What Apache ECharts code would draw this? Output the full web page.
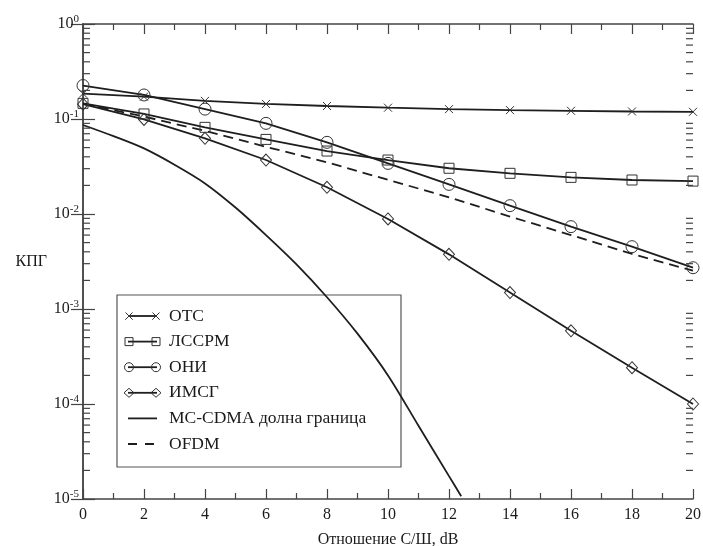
<!DOCTYPE html>
<html>
<head>
<meta charset="utf-8">
<script src="https://cdn.jsdelivr.net/npm/echarts@6/dist/echarts.min.js"></script>
<style>html,body{margin:0;padding:0;background:#fff;}#c{width:703px;height:546px;}</style>
</head>
<body>
<div id="c"></div>
<script>
// ---- data ----
const snr = [0, 2, 4, 6, 8, 10, 12, 14, 16, 18, 20];
const otc = [0.185, 0.172, 0.155, 0.144, 0.137, 0.1315, 0.127, 0.124, 0.122, 0.120, 0.119];
const lssrm = [0.146, 0.113, 0.0817, 0.061, 0.046, 0.037, 0.0303, 0.0268, 0.0243, 0.0228, 0.0222];
const oni = [0.225, 0.179, 0.127, 0.090, 0.0568, 0.0341, 0.0205, 0.01224, 0.00736, 0.00453, 0.00272];
const imsg = [0.143, 0.099, 0.0626, 0.037, 0.0191, 0.00886, 0.00376, 0.00149, 0.00059, 0.000241, 0.0001];
const ofdm = [0.145, 0.106, 0.075, 0.051, 0.035, 0.0229, 0.015, 0.0094, 0.0060, 0.0038, 0.00253];
const mcX = [0, 1, 2, 3, 4, 5, 6, 7, 8, 9, 10, 11, 12, 12.4];
const mcBound = [0.0865, 0.066, 0.049, 0.033, 0.021, 0.0117, 0.0060, 0.00295, 0.00133, 0.00055, 0.0002, 0.000059, 0.0000174, 0.0000107];
const seriesNames = ['ОТС', 'ЛССРМ', 'ОНИ', 'ИМСГ', 'MC-CDMA долна граница', 'OFDM'];
const xTickValues = [0, 2, 4, 6, 8, 10, 12, 14, 16, 18, 20];
const yMinorTicks = [];
for (let d = -5; d <= -1; d++) for (let k = 2; k <= 9; k++) yMinorTicks.push(k * Math.pow(10, d));

// ---- styling ----
const INK = '#1e1e1e';
const AX = '#444';
const FONT = '"Liberation Serif","Times New Roman",serif';
const crossPath = 'path://M0,0L10,10M0,10L10,0';
const markerStyle = { color: 'none', borderColor: '#333', borderWidth: 1 };

function pairs(xs, ys) { return xs.map((x, i) => [x, ys[i]]); }

function markerSeries(name, ys, symbol, size) {
  return {
    name: name, type: 'line', data: pairs(snr, ys), symbol: symbol, symbolSize: size,
    showAllSymbol: true,
    lineStyle: { color: INK, width: 1.8 },
    itemStyle: markerStyle, z: 3
  };
}

const chart = echarts.init(document.getElementById('c'), null, { renderer: 'canvas' });

const xBase = {
  type: 'value', min: 0, max: 20, interval: 2,
  axisLine: { show: true, onZero: false, lineStyle: { color: AX, width: 1.5 } },
  axisTick: { show: true, inside: true, length: 10, lineStyle: { color: AX, width: 1.2 } },
  minorTick: { show: true, splitNumber: 2, length: 6, lineStyle: { color: AX, width: 1.2 } },
  splitLine: { show: false }, minorSplitLine: { show: false }
};
const yBase = {
  type: 'log', logBase: 10, min: 0.00001, max: 1,
  axisLine: { show: true, lineStyle: { color: AX, width: 1.5 } },
  axisTick: { show: true, inside: true, length: 12, lineStyle: { color: AX, width: 1.2 } },
  splitLine: { show: false }, minorTick: { show: false }
};

// legend layout (graphic)
const LX = 117, LY = 295, LW = 284, LH = 172, ROW0 = 21, ROWH = 25.6;
const legendChildren = [{
  type: 'rect', shape: { x: LX, y: LY, width: LW, height: LH },
  style: { fill: '#fff', stroke: '#555', lineWidth: 1.2 }
}];
function legendMarker(kind, cx, cy) {
  const s = { fill: 'none', stroke: '#333', lineWidth: 1 };
  if (kind === 'cross') return { type: 'polyline', shape: { points: [[cx - 3.5, cy - 3.5], [cx + 3.5, cy + 3.5], [cx, cy], [cx - 3.5, cy + 3.5], [cx + 3.5, cy - 3.5]] }, style: s };
  if (kind === 'rect') return { type: 'rect', shape: { x: cx - 4, y: cy - 4, width: 8, height: 8 }, style: s };
  if (kind === 'circle') return { type: 'circle', shape: { cx: cx, cy: cy, r: 4.5 }, style: s };
  if (kind === 'diamond') return { type: 'polygon', shape: { points: [[cx - 5, cy], [cx, cy - 4.5], [cx + 5, cy], [cx, cy + 4.5]] }, style: s };
  return null;
}
const legendKinds = ['cross', 'rect', 'circle', 'diamond', null, null];
seriesNames.forEach((nm, i) => {
  const cy = LY + ROW0 + i * ROWH;
  const x1 = 128, x2 = 157;
  legendChildren.push({
    type: 'line', shape: { x1: x1, y1: cy, x2: x2, y2: cy },
    style: { stroke: INK, lineWidth: 1.8, lineDash: i === 5 ? [9, 8] : null }
  });
  const k = legendKinds[i];
  if (k) {
    legendChildren.push(legendMarker(k, x1 + 1, cy));
    legendChildren.push(legendMarker(k, x2 - 1, cy));
  }
  legendChildren.push({
    type: 'text', style: { text: nm, x: 169, y: cy, textVerticalAlign: 'middle', fill: '#1a1a1a', font: '17.5px ' + FONT }
  });
});

const option = {
  backgroundColor: '#fff',
  animation: false,
  grid: { left: 83, right: 10, top: 24, bottom: 47, containLabel: false, outerBoundsMode: 'none' },
  xAxis: [
    Object.assign({}, xBase, {
      position: 'bottom',
      axisLabel: { show: true, margin: 8, color: '#1a1a1a', fontFamily: FONT, fontSize: 16 },
      name: 'Отношение С/Ш, dB', nameLocation: 'middle', nameGap: 33,
      nameTextStyle: { color: '#1a1a1a', fontFamily: FONT, fontSize: 16 }
    }),
    Object.assign({}, xBase, { position: 'top', axisLabel: { show: false } })
  ],
  yAxis: [
    Object.assign({}, yBase, {
      position: 'left',
      axisLabel: {
        show: true, margin: 4, color: '#1a1a1a',
        formatter: function (v) {
          const e = Math.round(Math.log10(v));
          return '{b|10}{s|' + e + '}';
        },
        rich: {
          b: { fontFamily: FONT, fontSize: 16, color: '#1a1a1a' },
          s: { fontFamily: FONT, fontSize: 11, color: '#1a1a1a', verticalAlign: 'bottom', padding: [0, 0, 9, 0] }
        }
      },
      name: 'КПГ', nameLocation: 'middle', nameGap: 36, nameRotate: 0,
      nameTextStyle: { color: '#1a1a1a', fontFamily: FONT, fontSize: 16 }
    }),
    Object.assign({}, yBase, { position: 'right', axisLabel: { show: false } })
  ],
  series: [
    markerSeries(seriesNames[0], otc, crossPath, 8),
    markerSeries(seriesNames[1], lssrm, 'rect', 10),
    markerSeries(seriesNames[2], oni, 'circle', 12),
    markerSeries(seriesNames[3], imsg, 'diamond', [11, 12]),
    {
      name: seriesNames[4], type: 'line', data: pairs(mcX, mcBound), symbol: 'none',
      smooth: 0.3,
      lineStyle: { color: INK, width: 1.8 }, z: 2
    },
    {
      name: seriesNames[5], type: 'line', data: pairs(snr, ofdm), symbol: 'none',
      lineStyle: { color: INK, width: 1.8, type: [10, 6] }, z: 2
    },
    {
      name: 'minorTicksY', type: 'custom', silent: true, z: 4,
      data: yMinorTicks.map(v => [0, v]),
      encode: { x: 0, y: 1 },
      renderItem: function (params, api) {
        const v = api.value(1);
        const pl = api.coord([0, v]);
        const pr = api.coord([20, v]);
        const st = { stroke: AX, lineWidth: 1.2 };
        return {
          type: 'group', children: [
            { type: 'line', shape: { x1: pl[0], y1: pl[1], x2: pl[0] + 7, y2: pl[1] }, style: st },
            { type: 'line', shape: { x1: pr[0], y1: pr[1], x2: pr[0] - 7, y2: pr[1] }, style: st }
          ]
        };
      }
    }
  ],
  graphic: [{ type: 'group', z: 100, children: legendChildren }]
};
chart.setOption(option);
</script>
</body>
</html>
